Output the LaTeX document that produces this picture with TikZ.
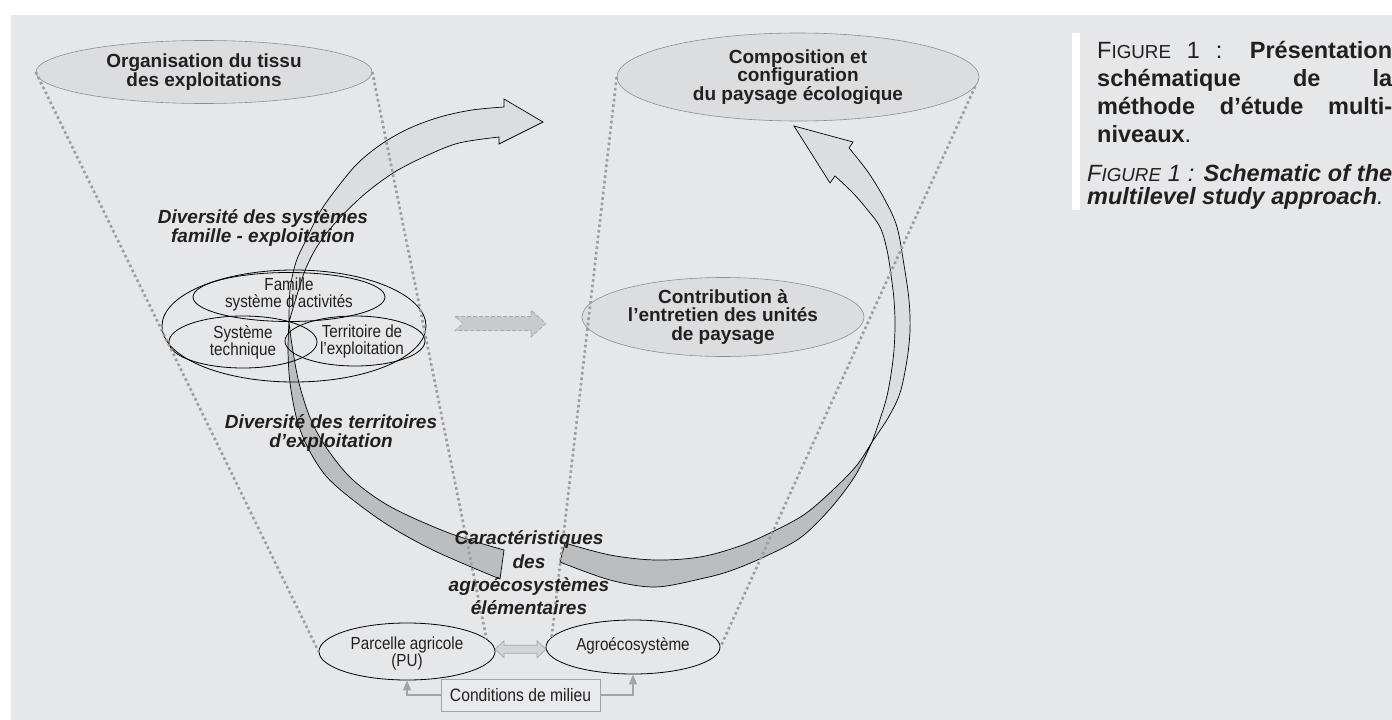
\documentclass[tikz,border=0pt]{standalone}
\usepackage{fontspec}
\setmainfont{Liberation Sans}
\newfontfamily\narrowfont[FakeStretch=0.87]{Liberation Sans}
\usetikzlibrary{shapes.geometric,arrows.meta,calc}
\definecolor{bgc}{HTML}{E6E7E8}
\definecolor{ellfill}{HTML}{DCDDDE}
\definecolor{ellline}{HTML}{8E8E8E}
\definecolor{dotcol}{HTML}{9D9D9D}
\definecolor{lightband}{HTML}{DCDDDF}
\definecolor{darkband}{HTML}{BCBDBF}
\definecolor{txt}{HTML}{231F20}
\definecolor{dashfill}{HTML}{C9CACC}
\definecolor{dashline}{HTML}{A6A7A9}
\definecolor{dblfill}{HTML}{D3D4D6}
\definecolor{connline}{HTML}{A3A4A6}
\definecolor{boxfill}{HTML}{E9EAEB}
\begin{document}
\begin{tikzpicture}[x=1pt,y=-1pt,
  softell/.style={ellipse, draw=ellline, line width=0.6pt, fill=ellfill, inner sep=0pt},
  cell/.style={ellipse, draw=black, line width=0.8pt, inner sep=0pt},
  lbl/.style={align=center, inner sep=0pt, text=txt, font=\bfseries\fontsize{19}{18.5}\selectfont},
  ital/.style={align=center, inner sep=0pt, text=txt, font=\bfseries\itshape\fontsize{19}{19}\selectfont},
  narr/.style={align=center, inner sep=0pt, text=txt, font=\narrowfont\fontsize{17.5}{17}\selectfont},
  dotline/.style={draw=dotcol, line width=2.6pt, dash pattern=on 2.6pt off 2.9pt},
  bandlight/.style={fill=lightband, draw=black, line width=0.7pt},
  banddark/.style={fill=darkband, draw=black, line width=0.7pt},
  dasharr/.style={fill=dashfill, draw=dashline, line width=0.7pt, dash pattern=on 4pt off 2pt},
  dblarr/.style={fill=dblfill, draw=dashline, line width=0.7pt},
  condbox/.style={rectangle, draw=connline, line width=0.8pt, fill=boxfill, inner sep=0pt, text=txt, font=\narrowfont\fontsize{18}{18}\selectfont},
  conn/.style={draw=connline, line width=1.4pt, -{Triangle[width=8pt,length=10pt]}},
  capt/.style={text width=305pt, align=justify, inner sep=0pt, text=txt, font=\fontsize{23.5}{28}\selectfont}
]
\useasboundingbox (0,0) rectangle (1392,720);
\fill[bgc] (11,15) rectangle (1392,720);

% big curved arrow A (left loop)
\filldraw[bandlight] plot[smooth,tension=0.55] coordinates {(289,322) (290,290) (296,262) (306,240) (320,212) (337,188) (358,163) (383,143) (410,128) (440,117) (472,110) (504,107)}
  -- (504,99) -- (543,122) -- (499,144)
  -- plot[smooth,tension=0.55] coordinates {(499,137) (459,143) (428,155) (398,170) (376,185) (358,200) (336,222) (318,245) (306,268) (297,295) (289,322)} -- cycle;
\filldraw[banddark] plot[smooth,tension=0.55] coordinates {(289,322) (292,345) (299,383) (311,420) (328,450) (353,480) (391,507) (449,533) (504,550)}
  -- plot[smooth,tension=0.55] coordinates {(500,579) (437,552) (391,527) (353,500) (326,476) (308,448) (297,420) (290,383) (288,350) (289,322)} -- cycle;

% big curved arrow B (right loop)
\filldraw[bandlight] plot[smooth,tension=0.55] coordinates {(872,442) (888,418) (900,393) (907,360) (910,330) (909,300) (904,265) (897,227) (885,200) (868,172) (849,148)}
  -- (853,142) -- (794,126) -- (830,183)
  -- plot[smooth,tension=0.55] coordinates {(835,176) (852,192) (866,208) (880,227) (887,250) (891,275) (894,300) (895,327) (893,360) (886,400) (872,442)} -- cycle;
\filldraw[banddark] plot[smooth,tension=0.55] coordinates {(565,543) (610,555) (655,560) (700,557) (740,546) (772,532) (805,514) (835,488) (857,465) (872,442)}
  -- plot[smooth,tension=0.55] coordinates {(872,442) (855,476) (830,509) (800,538) (764,557) (730,571) (700,579) (655,587) (610,580) (560,562)} -- cycle;

% ellipses
\node[softell, minimum width=336pt, minimum height=63pt] (tl) at (204,72) {};
\node[softell, minimum width=362pt, minimum height=88pt] (tr) at (798,77) {};
\node[softell, minimum width=282pt, minimum height=79pt] (contrib) at (723,317) {};
\node[cell, minimum width=264pt, minimum height=112pt] (clus) at (294,326) {};
\node[cell, minimum width=192pt, minimum height=49pt] (fam) at (289,297) {};
\node[cell, minimum width=148pt, minimum height=52pt] (sys) at (243,342) {};
\node[cell, minimum width=140pt, minimum height=50pt] (terr) at (355,341) {};
\node[cell, minimum width=176pt, minimum height=57pt] (parc) at (407,651.5) {};
\node[cell, minimum width=174pt, minimum height=54pt] (agro) at (633,647) {};
\node[condbox, minimum width=159pt, minimum height=32pt] (cond) at (520.5,695) {Conditions de milieu};

% dashed block arrow
\coordinate (dashc) at (455,323.5);
\filldraw[dasharr, shift={(dashc)}] (0,-7) -- (76,-7) -- (76,-13.5) -- (91,0) -- (76,13.5) -- (76,7) -- (0,7) -- (8,0) -- cycle;

% double arrow between parcel and agroecosystem
\coordinate (dblc) at ($(parc.east)!0.5!(agro.west)$);
\filldraw[dblarr, shift={(dblc)}] (-25.5,0) -- (-16.5,-8.5) -- (-16.5,-4) -- (16.5,-4) -- (16.5,-8.5) -- (25.5,0) -- (16.5,8.5) -- (16.5,4) -- (-16.5,4) -- (-16.5,8.5) -- cycle;

% connectors from conditions box
\draw[conn] (cond.west) -| (parc.south);
\draw[conn] (cond.east) -| (agro.south);

% dotted funnel lines
\draw[dotline] (tl.west) -- (parc.west);
\draw[dotline] (tl.east) -- (parc.9);
\draw[dotline] (tr.west) -- (agro.173);
\draw[dotline] (tr.357) -- (agro.east);

% labels
\node[lbl] at (tl) {Organisation du tissu\\des exploitations};
\node[lbl] at (tr) {Composition et\\configuration\\du paysage écologique};
\node[lbl] at (contrib) {Contribution à\\l’entretien des unités\\de paysage};
\node[narr] at (289,294) {Famille\\système d’activités};
\node[narr] at (243,342) {Système\\technique};
\node[narr] at (362,341.5) {Territoire de\\l’exploitation};
\node[narr] at (407,653.5) {Parcelle agricole\\(PU)};
\node[narr] at (633,645.5) {Agroécosystème};
\node[ital] at (263,228.5) {Diversité des systèmes\\famille - exploitation};
\node[ital] at (331,433) {Diversité des territoires\\d’exploitation};
\node[ital, font=\bfseries\itshape\fontsize{19}{23.3}\selectfont] at (529,573) {Caractéristiques\\des\\agroécosystèmes\\élémentaires};

% caption
\fill[white] (1072,33) rectangle (1080,210);
\node[capt, anchor=north west] (cap) at (1087,41) {\tolerance=9999\hbadness=10000
{\leftskip=10pt F{\fontsize{18.8}{28}\selectfont IGURE} 1 : \textbf{Présentation\linebreak schématique de la\linebreak méthode d’étude multi-\linebreak niveaux}.\par}
\vspace{16pt}
{\fontsize{23.5}{23}\selectfont\itshape F{\fontsize{18.8}{23}\selectfont IGURE} 1 : \textbf{Schematic of the\linebreak multilevel study approach}.\par}};
\end{tikzpicture}
\end{document}
